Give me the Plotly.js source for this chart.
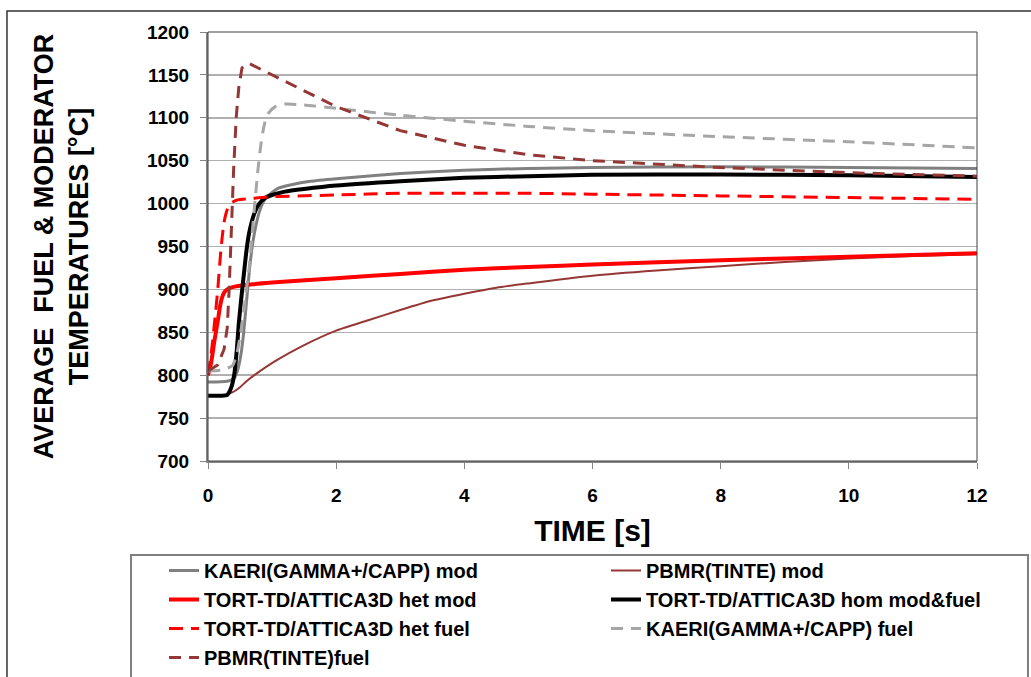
<!DOCTYPE html>
<html>
<head>
<meta charset="utf-8">
<script src="https://cdn.plot.ly/plotly-3.0.1.min.js"></script>
<style>html,body{margin:0;padding:0;background:#fff;}#chart{width:1031px;height:677px;}</style>
</head>
<body>
<div id="chart"></div>
<script>
// KAERI(GAMMA+/CAPP) mod
const kaeriModT = [0, 0.3, 0.4, 0.45, 0.5, 0.55, 0.6, 0.65, 0.7, 0.75, 0.8, 0.85, 0.9, 1.0, 1.1, 1.3, 1.6, 2, 3, 4, 5, 6, 8, 10, 12];
const kaeriModV = [792, 793, 796, 803, 818, 845, 885, 925, 955, 975, 990, 1000, 1006, 1013, 1018, 1022, 1026, 1029, 1035, 1039, 1041, 1042, 1043, 1042, 1041];
// PBMR(TINTE) mod
const pbmrModT = [0, 0.25, 0.38, 0.5, 0.6, 0.74, 1.06, 1.47, 2, 2.5, 3, 3.5, 4, 4.5, 5, 6, 7, 8, 9, 10, 11, 12];
const pbmrModV = [776, 777, 780, 786, 793, 801, 817, 834, 852, 864, 876, 887, 895, 902, 907, 916, 922, 927, 932, 936, 939, 941];
// TORT-TD/ATTICA3D het mod
const hetModT = [0, 0.05, 0.1, 0.15, 0.2, 0.25, 0.3, 0.4, 0.7, 1, 2, 3, 4, 5, 6, 8, 10, 12];
const hetModV = [800, 815, 840, 862, 885, 896, 900, 903, 906, 908, 913, 918, 923, 926, 929, 934, 938, 942];
// TORT-TD/ATTICA3D hom mod&fuel
const homT = [0, 0.2, 0.3, 0.36, 0.41, 0.45, 0.48, 0.52, 0.56, 0.6, 0.64, 0.68, 0.72, 0.8, 0.9, 1.0, 1.2, 1.5, 2, 3, 4, 5, 6, 8, 10, 12];
const homV = [776, 776, 777, 785, 801, 830, 860, 890, 918, 945, 965, 978, 988, 1000, 1007, 1010, 1014, 1017, 1021, 1026, 1030, 1032, 1033.5, 1034, 1033, 1031];
// TORT-TD/ATTICA3D het fuel
const hetFuelT = [0, 0.05, 0.1, 0.15, 0.2, 0.25, 0.3, 0.35, 0.45, 0.7, 1, 2, 3, 4, 5, 6, 8, 10, 12];
const hetFuelV = [800, 825, 860, 898, 945, 978, 993, 1000, 1004, 1006, 1008, 1010, 1012, 1012, 1012, 1011, 1009, 1007, 1005];
// KAERI(GAMMA+/CAPP) fuel
const kaeriFuelT = [0, 0.2, 0.38, 0.45, 0.5, 0.55, 0.6, 0.65, 0.7, 0.74, 0.78, 0.82, 0.86, 0.9, 0.95, 1.05, 1.2, 1.5, 2, 3, 4, 5, 6, 8, 10, 12];
const kaeriFuelV = [805, 806, 811, 825, 845, 870, 900, 930, 975, 1008, 1040, 1066, 1085, 1098, 1106, 1113, 1116, 1115, 1111, 1103, 1096, 1090, 1085, 1078, 1072, 1065];
// PBMR(TINTE)fuel
const pbmrFuelT = [0, 0.15, 0.25, 0.3, 0.33, 0.36, 0.4, 0.44, 0.48, 0.53, 0.6, 0.65, 2, 3, 4, 5, 6, 8, 10, 12];
const pbmrFuelV = [805, 812, 830, 855, 900, 970, 1040, 1100, 1135, 1158, 1163, 1163, 1113, 1085, 1068, 1057, 1050, 1042, 1036, 1032];

const seriesNames = [
  'KAERI(GAMMA+/CAPP) mod',
  'PBMR(TINTE) mod',
  'TORT-TD/ATTICA3D het mod',
  'TORT-TD/ATTICA3D hom mod&fuel',
  'TORT-TD/ATTICA3D het fuel',
  'KAERI(GAMMA+/CAPP) fuel',
  'PBMR(TINTE)fuel'
];
const xTicks = [0, 2, 4, 6, 8, 10, 12];
const yTicks = [700, 750, 800, 850, 900, 950, 1000, 1050, 1100, 1150, 1200];

const FONT = '"Liberation Sans", Arial, sans-serif';

function tr(x, y, name, color, width, dash, legend) {
  return {x: x, y: y, name: name, type: 'scatter', mode: 'lines', legend: legend,
    line: {color: color, width: width, dash: dash, shape: 'spline', smoothing: 0.6}};
}

const traces = [
  tr(kaeriModT, kaeriModV, seriesNames[0], '#808080', 3, 'solid', 'legend'),
  tr(pbmrModT, pbmrModV, seriesNames[1], '#953735', 2, 'solid', 'legend2'),
  tr(hetModT, hetModV, seriesNames[2], '#FF0000', 4, 'solid', 'legend'),
  tr(homT, homV, seriesNames[3], '#000000', 4, 'solid', 'legend2'),
  tr(hetFuelT, hetFuelV, seriesNames[4], '#FF0000', 3, '14px,8px', 'legend'),
  tr(kaeriFuelT, kaeriFuelV, seriesNames[5], '#A6A6A6', 3, '12px,8px', 'legend2'),
  tr(pbmrFuelT, pbmrFuelV, seriesNames[6], '#953735', 3, '12px,8px', 'legend')
];
traces[6].line.shape = 'linear';

const legendCommon = {
  orientation: 'v', xref: 'paper', yref: 'container', xanchor: 'left', yanchor: 'top',
  y: 1 - 551 / 677, traceorder: 'normal',
  font: {family: FONT, size: 20, color: '#000', weight: 'bold'},
  bgcolor: 'rgba(0,0,0,0)', borderwidth: 0
};

const layout = {
  width: 1031, height: 677,
  margin: {l: 208, r: 54, t: 32, b: 216},
  paper_bgcolor: '#ffffff', plot_bgcolor: '#ffffff',
  font: {family: FONT, color: '#000', size: 17},
  showlegend: true,
  legend: Object.assign({}, legendCommon, {x: (164 - 208) / 769}),
  legend2: Object.assign({}, legendCommon, {x: (606 - 208) / 769}),
  xaxis: {
    range: [0, 12], tickvals: xTicks, ticktext: xTicks.map(String),
    showgrid: false, zeroline: false, automargin: false,
    showline: true, linecolor: '#868686', linewidth: 2,
    ticks: 'outside', ticklen: 6, tickcolor: '#868686', tickwidth: 1,
    ticklabelstandoff: 10,
    tickfont: {family: FONT, size: 19, color: '#000', weight: 'bold'},
    title: {text: 'TIME [s]', standoff: 15, font: {family: FONT, size: 30, color: '#000', weight: 'bold'}}
  },
  yaxis: {
    range: [700, 1200], tickvals: yTicks, ticktext: yTicks.map(String),
    showgrid: true, gridcolor: '#B0B0B0', gridwidth: 1.5, zeroline: false, automargin: false,
    showline: true, linecolor: '#868686', linewidth: 2,
    ticks: 'outside', ticklen: 6, tickcolor: '#868686', tickwidth: 1,
    ticklabelstandoff: 7,
    tickfont: {family: FONT, size: 19, color: '#000', weight: 'bold'},
    title: {text: 'AVERAGE\u00A0\u00A0FUEL &amp; MODERATOR<br>TEMPERATURES [°C]', standoff: 50,
      font: {family: FONT, size: 27, color: '#000', weight: 'bold'}}
  },
  shapes: [
    {type: 'rect', xref: 'paper', yref: 'paper', x0: 0, x1: 1, y0: 0, y1: 1,
      line: {color: '#404040', width: 1}, layer: 'above'},
    {type: 'rect', xref: 'paper', yref: 'paper', x0: -0.2614, x1: 1.08, y0: -0.56, y1: 1.049,
      line: {color: '#333333', width: 1.5}},
    {type: 'rect', xref: 'paper', yref: 'paper', x0: -0.1001, x1: 1.0663, y0: -0.56, y1: -0.2191,
      line: {color: '#7F7F7F', width: 2}}
  ]
};

Plotly.newPlot('chart', traces, layout, {displayModeBar: false, staticPlot: true});
</script>
</body>
</html>
